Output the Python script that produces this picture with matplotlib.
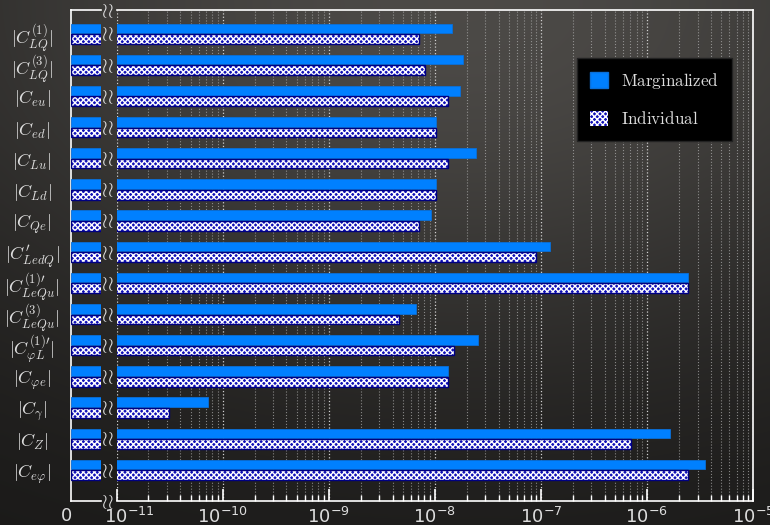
import numpy as np
import matplotlib
matplotlib.use("Agg")
import matplotlib.pyplot as plt
from matplotlib.patches import Patch
from matplotlib.transforms import blended_transform_factory, ScaledTranslation

plt.rcParams['mathtext.fontset'] = 'cm'
plt.rcParams['axes.formatter.use_mathtext'] = True
plt.rcParams['hatch.linewidth'] = 1.0

labels = [r'$|C_{LQ}^{(1)}|$', r'$|C_{LQ}^{(3)}|$', r'$|C_{eu}|$', r'$|C_{ed}|$',
          r'$|C_{Lu}|$', r'$|C_{Ld}|$', r'$|C_{Qe}|$', r'$|C^{\prime}_{LedQ}|$',
          r'$|C_{LeQu}^{(1)\prime}|$', r'$|C_{LeQu}^{(3)}|$', r'$|C_{\varphi L}^{(1)\prime}|$',
          r'$|C_{\varphi e}|$', r'$|C_{\gamma}|$', r'$|C_{Z}|$', r'$|C_{e\varphi}|$']
marginalized = [1.45e-8, 1.84e-8, 1.73e-8, 1.02e-8, 2.45e-8, 1.02e-8, 9.2e-9, 1.23e-7,
                2.45e-6, 6.6e-9, 2.56e-8, 1.34e-8, 7.2e-11, 1.64e-6, 3.49e-6]
individual = [7.1e-9, 8.1e-9, 1.33e-8, 1.02e-8, 1.33e-8, 1.02e-8, 7.1e-9, 9.1e-8,
              2.45e-6, 4.6e-9, 1.53e-8, 1.33e-8, 3.1e-11, 7.1e-7, 2.45e-6]

W, H = 770, 525
fig = plt.figure(figsize=(W / 100, H / 100), dpi=100)

# chalkboard-ish backdrop: lighter towards the top middle
bg = fig.add_axes([0, 0, 1, 1], zorder=-10)
gx, gy = np.meshgrid(np.linspace(0, 1, 200), np.linspace(0, 1, 140))
light = 0.09 + 0.2 * np.exp(-((gx - 0.6) ** 2 / 0.6 + gy ** 2 / 0.5))
rgb = np.dstack([light * 1.03, light * 1.0, light * 0.96]).clip(0, 1)
bg.imshow(rgb, extent=[0, 1, 0, 1], aspect='auto', interpolation='bicubic')
bg.axis('off')

fg = '#dddddd'
bottom = (H - 501) / H
height = 491 / H
axL = fig.add_axes([71 / W, bottom, (100.5 - 71) / W, height])
axR = fig.add_axes([116.5 / W, bottom, (753 - 116.5) / W, height])

y = np.arange(len(labels))
bh = 0.31

for ax in (axL, axR):
    ax.set_facecolor('none')
    ax.barh(y - 0.17, marginalized, height=bh, left=1e-13, color='#0080ff',
            edgecolor='#0a6fd8', linewidth=0.6, zorder=3)
    ax.barh(y + 0.17, individual, height=bh, left=1e-13, color='#1010b8',
            edgecolor='white', hatch='xxxxxx', linewidth=0, zorder=3)
    ax.barh(y + 0.17, individual, height=bh, left=1e-13, color='none',
            edgecolor='#000080', linewidth=1.0, zorder=4)
    ax.set_ylim(15.0, -0.76)
    for s in ax.spines.values():
        s.set_color('white')
        s.set_linewidth(1.2)

axL.set_xlim(0, 1e-11)
axL.spines['right'].set_visible(False)
axL.set_xticks([0])
axL.set_xticklabels(['0'])
axL.set_yticks(y)
axL.set_yticklabels(labels, fontsize=13, color=fg, ha='center')
axL.tick_params(axis='y', length=0, pad=28)
axL.tick_params(axis='x', length=0, pad=4, labelsize=13, labelcolor=fg)
for t in axL.get_xticklabels():
    t.set_transform(t.get_transform() + ScaledTranslation(-0.04, 0, fig.dpi_scale_trans))

axR.set_xscale('log')
axR.set_xlim(1e-11, 1e-5)
axR.spines['left'].set_visible(False)
axR.set_yticks([])
axR.tick_params(axis='x', which='major', direction='in', length=8.5, width=1.2,
                color='white', pad=4, labelsize=13, labelcolor=fg)
axR.tick_params(axis='x', which='minor', direction='in', length=4, width=1.0,
                color='white')
axR.grid(True, which='major', axis='x', ls=':', color='#d0d0d0', lw=0.9, zorder=1)
axR.grid(True, which='minor', axis='x', ls=':', color='#b0b0b0', lw=0.8,
         alpha=0.7, zorder=1)
fig.canvas.draw()
for t in axR.get_xticklabels():
    if '-11' in t.get_text():
        t.set_transform(t.get_transform() + ScaledTranslation(0.13, 0, fig.dpi_scale_trans))

# axis-break marks between the two panels
bx = 107.5 / W
brk = r'$\wr\!\wr$'
tr = blended_transform_factory(fig.transFigure, axR.transData)
for yi in y:
    fig.text(bx, yi, brk, transform=tr, ha='center', va='center',
             fontsize=15, color=fg)
for yf in (bottom, bottom + height):
    fig.text(bx, yf, brk, ha='center', va='center', fontsize=15, color=fg)

handles = [Patch(facecolor='#0080ff', edgecolor='#0a6fd8'),
           Patch(facecolor='#1010b8', edgecolor='white', hatch='xxxxxx', lw=0)]
leg = axR.legend(handles=handles,
                 labels=[r'$\mathrm{Marginalized}$', r'$\mathrm{Individual}$'],
                 loc='upper left', bbox_to_anchor=(577 / W, 1 - 58 / H),
                 bbox_transform=fig.transFigure, borderaxespad=0, fontsize=12.3,
                 handlelength=1.05, handleheight=1.0, labelspacing=1.15,
                 borderpad=0.75, handletextpad=0.8, fancybox=False, framealpha=1)
leg.get_frame().set_facecolor('black')
leg.get_frame().set_edgecolor('#222222')
for t in leg.get_texts():
    t.set_color(fg)

fig.savefig('out.png', dpi=100)
